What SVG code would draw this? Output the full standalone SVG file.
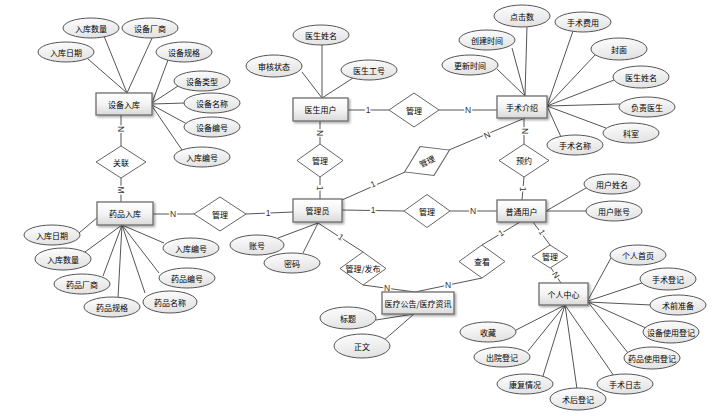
<svg xmlns="http://www.w3.org/2000/svg" width="716" height="416" viewBox="0 0 716 416">
<defs>
<linearGradient id="gE" x1="0" y1="0" x2="0" y2="1"><stop offset="0" stop-color="#ffffff"/><stop offset="0.5" stop-color="#f4f4f4"/><stop offset="1" stop-color="#d9d9d9"/></linearGradient>
<linearGradient id="gA" x1="0" y1="0" x2="0.3" y2="1"><stop offset="0" stop-color="#ffffff"/><stop offset="1" stop-color="#e4e4e4"/></linearGradient>
<filter id="sh" x="-10%" y="-10%" width="130%" height="140%"><feDropShadow dx="1.5" dy="1.5" stdDeviation="0.8" flood-color="#000" flood-opacity="0.35"/></filter>
</defs>
<style>
.ent rect{fill:url(#gE);stroke:#6e6e6e;stroke-width:1.3;filter:url(#sh)}
.att ellipse{fill:url(#gA);stroke:#555;stroke-width:1}
.rel polygon{fill:#fff;stroke:#666;stroke-width:1}
text{font-family:"Noto Sans CJK SC","Liberation Sans",sans-serif;font-size:8px;fill:#000;text-anchor:middle;dominant-baseline:central}
#connectors line,#connectors polyline{stroke:#555;stroke-width:1;fill:none}
.lb{font-family:"Liberation Sans","Noto Sans CJK SC",sans-serif;font-size:8.5px;stroke:#fff;stroke-width:3;paint-order:stroke;fill:#333}
</style>
<rect width="716" height="416" fill="#fff"/>
<g id="connectors">
<line x1="127" y1="93" x2="104" y2="36"/>
<line x1="127" y1="93" x2="153" y2="36"/>
<line x1="127" y1="93" x2="88" y2="59"/>
<line x1="152" y1="103" x2="168" y2="60"/>
<line x1="152" y1="103" x2="178" y2="86"/>
<line x1="152" y1="104" x2="185" y2="103"/>
<line x1="152" y1="105" x2="187" y2="124"/>
<line x1="152" y1="106" x2="182" y2="150"/>
<line x1="121" y1="115" x2="121" y2="146"/>
<line x1="121" y1="178" x2="121" y2="202"/>
<line x1="322" y1="98" x2="322" y2="44"/>
<line x1="322" y1="98" x2="302" y2="72"/>
<line x1="322" y1="98" x2="353" y2="78"/>
<line x1="348" y1="110" x2="389" y2="110"/>
<line x1="439" y1="110" x2="497" y2="110"/>
<line x1="320" y1="121" x2="320" y2="144"/>
<line x1="320" y1="177" x2="320" y2="199"/>
<line x1="525" y1="96" x2="527" y2="26"/>
<line x1="525" y1="96" x2="512" y2="48"/>
<line x1="525" y1="96" x2="497" y2="69"/>
<line x1="547" y1="106" x2="573" y2="31"/>
<line x1="547" y1="106" x2="595" y2="55"/>
<line x1="547" y1="106" x2="614" y2="80"/>
<line x1="547" y1="106" x2="620" y2="104"/>
<line x1="547" y1="106" x2="606" y2="128"/>
<line x1="547" y1="106" x2="561" y2="137"/>
<line x1="524" y1="118" x2="524" y2="144"/>
<line x1="524" y1="177" x2="522" y2="200"/>
<line x1="525" y1="118" x2="449" y2="150"/>
<line x1="405" y1="172" x2="342" y2="200"/>
<line x1="293" y1="212" x2="246" y2="214"/>
<line x1="194" y1="214" x2="153" y2="214"/>
<line x1="342" y1="210" x2="404" y2="211"/>
<line x1="450" y1="211" x2="497" y2="211"/>
<line x1="318" y1="223" x2="278" y2="238"/>
<line x1="318" y1="223" x2="303" y2="253"/>
<line x1="318" y1="223" x2="363" y2="252"/>
<line x1="363" y1="285" x2="415" y2="292"/>
<line x1="482" y1="278" x2="415" y2="292"/>
<line x1="546" y1="211" x2="586" y2="188"/>
<line x1="546" y1="211" x2="587" y2="211"/>
<line x1="520" y1="222" x2="482" y2="245"/>
<line x1="533" y1="222" x2="550" y2="245"/>
<line x1="551" y1="268" x2="561" y2="283"/>
<line x1="588" y1="300" x2="612" y2="256"/>
<line x1="588" y1="301" x2="642" y2="283"/>
<line x1="588" y1="302" x2="651" y2="305"/>
<line x1="588" y1="302" x2="646" y2="328"/>
<line x1="588" y1="302" x2="628" y2="353"/>
<line x1="565" y1="305" x2="614" y2="376"/>
<line x1="565" y1="305" x2="577" y2="389"/>
<line x1="565" y1="305" x2="543" y2="376"/>
<line x1="565" y1="305" x2="528" y2="351"/>
<line x1="565" y1="305" x2="516" y2="330"/>
<line x1="414" y1="314" x2="376" y2="320"/>
<line x1="414" y1="314" x2="383" y2="341"/>
<line x1="122" y1="225" x2="98" y2="217"/>
<line x1="98" y1="217" x2="79" y2="233"/>
<line x1="122" y1="225" x2="85" y2="252"/>
<line x1="122" y1="225" x2="103" y2="276"/>
<line x1="122" y1="225" x2="118" y2="298"/>
<line x1="122" y1="225" x2="145" y2="293"/>
<line x1="122" y1="225" x2="159" y2="273"/>
<line x1="122" y1="225" x2="164" y2="243"/>
<text class="lb" transform="rotate(90 121 129)" x="121" y="129">N</text>
<text class="lb" transform="rotate(90 121 190)" x="121" y="190">M</text>
<text class="lb" x="368" y="110">1</text>
<text class="lb" x="468" y="110">N</text>
<text class="lb" transform="rotate(90 320 133)" x="320" y="133">N</text>
<text class="lb" transform="rotate(90 320 188)" x="320" y="188">1</text>
<text class="lb" transform="rotate(90 525 131)" x="525" y="131">N</text>
<text class="lb" transform="rotate(90 523 189)" x="523" y="189">1</text>
<text class="lb" transform="rotate(-24 487 135)" x="487" y="135">N</text>
<text class="lb" transform="rotate(-24 373 184)" x="373" y="184">1</text>
<text class="lb" x="268" y="213">1</text>
<text class="lb" x="173" y="214">N</text>
<text class="lb" x="373" y="210">1</text>
<text class="lb" x="473" y="211">N</text>
<text class="lb" transform="rotate(33 341 237)" x="341" y="237">1</text>
<text class="lb" x="387" y="288">N</text>
<text class="lb" x="448" y="285">N</text>
<text class="lb" transform="rotate(-31 501 233)" x="501" y="233">1</text>
<text class="lb" transform="rotate(57 542 232)" x="542" y="232">1</text>
<text class="lb" transform="rotate(57 556 275)" x="556" y="275">N</text>
</g>
<g id="e-shebeiruku" class="ent"><rect x="96" y="93" width="56" height="22"/><text x="124" y="104">设备入库</text></g>
<g id="e-yishengyonghu" class="ent"><rect x="293" y="98" width="55" height="23"/><text x="320.5" y="109.5">医生用户</text></g>
<g id="e-shoushujieshao" class="ent"><rect x="497" y="96" width="50" height="22"/><text x="522" y="107">手术介绍</text></g>
<g id="e-yaopinruku" class="ent"><rect x="97" y="202" width="56" height="23"/><text x="125" y="213.5">药品入库</text></g>
<g id="e-guanliyuan" class="ent"><rect x="293" y="199" width="49" height="23"/><text x="317.5" y="210.5">管理员</text></g>
<g id="e-putongyonghu" class="ent"><rect x="497" y="200" width="49" height="22"/><text x="521.5" y="211">普通用户</text></g>
<g id="e-gonggao" class="ent"><rect x="382" y="292" width="72" height="22"/><text x="418" y="303">医疗公告/医疗资讯</text></g>
<g id="e-gerenzhongxin" class="ent"><rect x="539" y="283" width="49" height="22"/><text x="563.5" y="294">个人中心</text></g>
<g id="r-guanlian" class="rel"><polygon points="96,162 121,146 146,162 121,178"/><text x="121" y="162">关联</text></g>
<g id="r-guanli-1" class="rel"><polygon points="389,110 414,93 439,110 414,127"/><text x="414" y="110">管理</text></g>
<g id="r-guanli-2" class="rel"><polygon points="297,160.5 320,144 343,160.5 320,177"/><text x="320" y="160.5">管理</text></g>
<g id="r-guanli-3" class="rel"><polygon points="194,214 220,197 246,214 220,231"/><text x="220" y="214">管理</text></g>
<g id="r-guanli-4" class="rel" transform="rotate(-26 427 161)"><polygon points="402,161 427,145 452,161 427,177"/><text x="427" y="161">管理</text></g>
<g id="r-yuyue" class="rel"><polygon points="499,160.5 524,144 549,160.5 524,177"/><text x="524" y="160.5">预约</text></g>
<g id="r-guanli-5" class="rel"><polygon points="404,211 427,194.5 450,211 427,227.5"/><text x="427" y="211">管理</text></g>
<g id="r-guanlifabu" class="rel"><polygon points="340,268.5 363,252 386,268.5 363,285"/><text x="363" y="268.5">管理/发布</text></g>
<g id="r-chakan" class="rel"><polygon points="459,261.5 482,245 505,261.5 482,278"/><text x="482" y="261.5">查看</text></g>
<g id="r-guanli-6" class="rel"><polygon points="532,256.5 550,245 568,256.5 550,268"/><text x="550" y="256.5">管理</text></g>
<g id="a-sb-rkl" class="att"><ellipse cx="91" cy="28" rx="28" ry="10"/><text x="91" y="28">入库数量</text></g>
<g id="a-sb-cs" class="att"><ellipse cx="150" cy="28" rx="28" ry="10"/><text x="150" y="28">设备厂商</text></g>
<g id="a-sb-rq" class="att"><ellipse cx="66" cy="52" rx="28" ry="10"/><text x="66" y="52">入库日期</text></g>
<g id="a-sb-gg" class="att"><ellipse cx="184" cy="52" rx="28" ry="10"/><text x="184" y="52">设备规格</text></g>
<g id="a-sb-lx" class="att"><ellipse cx="202" cy="81" rx="28" ry="10"/><text x="202" y="81">设备类型</text></g>
<g id="a-sb-mc" class="att"><ellipse cx="212" cy="103" rx="28" ry="10"/><text x="212" y="103">设备名称</text></g>
<g id="a-sb-bh" class="att"><ellipse cx="212" cy="127" rx="28" ry="10"/><text x="212" y="127">设备编号</text></g>
<g id="a-sb-rkbh" class="att"><ellipse cx="202" cy="157" rx="28" ry="10"/><text x="202" y="157">入库编号</text></g>
<g id="a-ys-xm" class="att"><ellipse cx="321" cy="35" rx="28" ry="10"/><text x="321" y="35">医生姓名</text></g>
<g id="a-ys-zt" class="att"><ellipse cx="274" cy="66" rx="28" ry="11"/><text x="274" y="66">审核状态</text></g>
<g id="a-ys-gh" class="att"><ellipse cx="369" cy="70" rx="28" ry="10"/><text x="369" y="70">医生工号</text></g>
<g id="a-ss-djs" class="att"><ellipse cx="522" cy="16" rx="28" ry="11"/><text x="522" y="16">点击数</text></g>
<g id="a-ss-fy" class="att"><ellipse cx="583" cy="22" rx="28" ry="10"/><text x="583" y="22">手术费用</text></g>
<g id="a-ss-cj" class="att"><ellipse cx="487" cy="40" rx="28" ry="10"/><text x="487" y="40">创建时间</text></g>
<g id="a-ss-fm" class="att"><ellipse cx="619" cy="49" rx="28" ry="11"/><text x="619" y="49">封面</text></g>
<g id="a-ss-gx" class="att"><ellipse cx="470" cy="65" rx="28" ry="10"/><text x="470" y="65">更新时间</text></g>
<g id="a-ss-ysxm" class="att"><ellipse cx="641" cy="77" rx="28" ry="11"/><text x="641" y="77">医生姓名</text></g>
<g id="a-ss-fz" class="att"><ellipse cx="647" cy="107" rx="28" ry="10"/><text x="647" y="107">负责医生</text></g>
<g id="a-ss-ks" class="att"><ellipse cx="631" cy="133" rx="28" ry="10"/><text x="631" y="133">科室</text></g>
<g id="a-ss-mc" class="att"><ellipse cx="575" cy="145" rx="28" ry="10"/><text x="575" y="145">手术名称</text></g>
<g id="a-gl-zh" class="att"><ellipse cx="257" cy="245" rx="27" ry="10"/><text x="257" y="245">账号</text></g>
<g id="a-gl-mm" class="att"><ellipse cx="292" cy="263" rx="28" ry="10"/><text x="292" y="263">密码</text></g>
<g id="a-yp-rq" class="att"><ellipse cx="52" cy="235" rx="28" ry="10"/><text x="52" y="235">入库日期</text></g>
<g id="a-yp-sl" class="att"><ellipse cx="63" cy="259" rx="28" ry="11"/><text x="63" y="259">入库数量</text></g>
<g id="a-yp-cs" class="att"><ellipse cx="82" cy="284" rx="28" ry="10"/><text x="82" y="284">药品厂商</text></g>
<g id="a-yp-gg" class="att"><ellipse cx="112" cy="307" rx="28" ry="10"/><text x="112" y="307">药品规格</text></g>
<g id="a-yp-mc" class="att"><ellipse cx="170" cy="302" rx="27" ry="11"/><text x="170" y="302">药品名称</text></g>
<g id="a-yp-bh" class="att"><ellipse cx="187" cy="278" rx="28" ry="10"/><text x="187" y="278">药品编号</text></g>
<g id="a-yp-rkbh" class="att"><ellipse cx="191" cy="248" rx="28" ry="10"/><text x="191" y="248">入库编号</text></g>
<g id="a-pt-xm" class="att"><ellipse cx="612" cy="184" rx="28" ry="10"/><text x="612" y="184">用户姓名</text></g>
<g id="a-pt-zh" class="att"><ellipse cx="614" cy="211" rx="28" ry="10"/><text x="614" y="211">用户账号</text></g>
<g id="a-gg-bt" class="att"><ellipse cx="348" cy="318" rx="28" ry="11"/><text x="348" y="318">标题</text></g>
<g id="a-gg-zw" class="att"><ellipse cx="362" cy="346" rx="28" ry="12"/><text x="362" y="346">正文</text></g>
<g id="a-gr-sy" class="att"><ellipse cx="638" cy="255" rx="28" ry="10"/><text x="638" y="255">个人首页</text></g>
<g id="a-gr-ssdj" class="att"><ellipse cx="668" cy="279" rx="28" ry="11"/><text x="668" y="279">手术登记</text></g>
<g id="a-gr-sqzb" class="att"><ellipse cx="678" cy="305" rx="28" ry="10"/><text x="678" y="305">术前准备</text></g>
<g id="a-gr-sbsy" class="att"><ellipse cx="671" cy="332" rx="28" ry="11"/><text x="671" y="332">设备使用登记</text></g>
<g id="a-gr-ypsy" class="att"><ellipse cx="652" cy="358" rx="28" ry="11"/><text x="652" y="358">药品使用登记</text></g>
<g id="a-gr-ssrz" class="att"><ellipse cx="625" cy="384" rx="28" ry="10"/><text x="625" y="384">手术日志</text></g>
<g id="a-gr-shdj" class="att"><ellipse cx="578" cy="399" rx="28" ry="11"/><text x="578" y="399">术后登记</text></g>
<g id="a-gr-kf" class="att"><ellipse cx="525" cy="384" rx="28" ry="10"/><text x="525" y="384">康复情况</text></g>
<g id="a-gr-cy" class="att"><ellipse cx="502" cy="357" rx="28" ry="10"/><text x="502" y="357">出院登记</text></g>
<g id="a-gr-sc" class="att"><ellipse cx="488" cy="332" rx="28" ry="10"/><text x="488" y="332">收藏</text></g>
</svg>
